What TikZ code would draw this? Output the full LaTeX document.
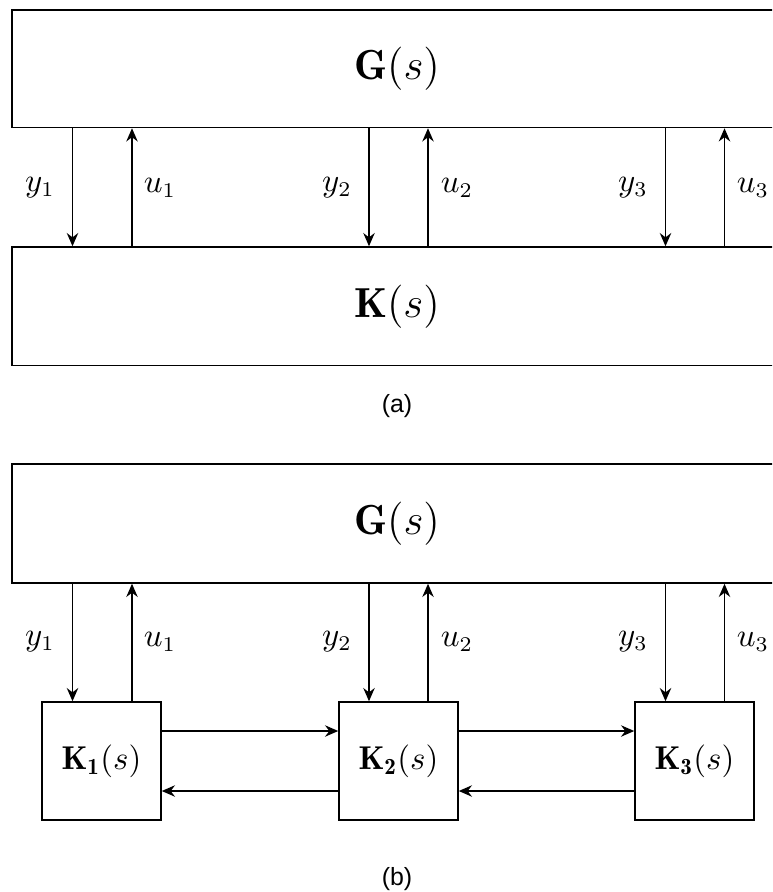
\documentclass[tikz,border=0pt]{standalone}
\usepackage{fontspec}
\newfontfamily\capfont{Liberation Sans}
\usetikzlibrary{arrows.meta,fit}
\begin{document}
\begin{tikzpicture}[x=0.33333pt,y=-0.33333pt,
  box/.style={draw, line width=0.5pt, inner sep=0pt},
  arr/.style={-{Stealth[length=4.4pt,width=3.8pt]}, line width=0.5pt},
  lbl/.style={font=\fontsize{10.5}{12}\selectfont},
  big/.style={font=\fontsize{14}{16}\selectfont},
  mid/.style={font=\fontsize{11}{13}\selectfont},
  captext/.style={font=\capfont\fontsize{8.3}{10}\selectfont}]
\useasboundingbox (0,0) rectangle (772,892);
\clip (0,0) rectangle (772,892);
\coordinate (cy1) at (72.5,0);
\coordinate (cu1) at (132,0);
\coordinate (cy2) at (369,0);
\coordinate (cu2) at (428,0);
\coordinate (cy3) at (665.5,0);
\coordinate (cu3) at (724.5,0);
\coordinate (ht) at (0,731);
\coordinate (hb) at (0,791);
% (a)
\node[box, fit={(12,10) (782,127.5)}] (Ga) {};
\node[big] (Gat) at (Ga.center) {$\mathbf{G}(s)$};
\node[box, fit={(12,247) (782,365.5)}] (Ka) {};
\node[big] (Kat) at (Ka.center) {$\mathbf{K}(s)$};
\foreach \i in {1,2,3} {
  \draw[arr] (Ga.south -| cy\i) -- (Ka.north -| cy\i);
  \draw[arr] (Ka.north -| cu\i) -- (Ga.south -| cu\i);
}
\node[lbl] (ya1) at (40,188) {$y_1$};
\node[lbl] (ua1) at (160,188) {$u_1$};
\node[lbl] (ya2) at (337,188) {$y_2$};
\node[lbl] (ua2) at (457,188) {$u_2$};
\node[lbl] (ya3) at (633,188) {$y_3$};
\node[lbl] (ua3) at (753,188) {$u_3$};
\node[captext] (capa) at (397,406) {(a)};
% (b)
\node[box, fit={(12,464) (782,583)}] (Gb) {};
\node[big] (Gbt) at (Gb.center) {$\mathbf{G}(s)$};
\node[box, fit={(42,702) (161,820)}] (K1) {};
\node[box, fit={(339,702) (458,820)}] (K2) {};
\node[box, fit={(635,702) (754,820)}] (K3) {};
\node[mid] (K1t) at (K1.center) {$\mathbf{K_1}(s)$};
\node[mid] (K2t) at (K2.center) {$\mathbf{K_2}(s)$};
\node[mid] (K3t) at (K3.center) {$\mathbf{K_3}(s)$};
\foreach \i in {1,2,3} {
  \draw[arr] (Gb.south -| cy\i) -- (K\i.north -| cy\i);
  \draw[arr] (K\i.north -| cu\i) -- (Gb.south -| cu\i);
}
\draw[arr] (K1.east |- ht) -- (K2.west |- ht);
\draw[arr] (K2.west |- hb) -- (K1.east |- hb);
\draw[arr] (K2.east |- ht) -- (K3.west |- ht);
\draw[arr] (K3.west |- hb) -- (K2.east |- hb);
\node[lbl] (yb1) at (40,642) {$y_1$};
\node[lbl] (ub1) at (160,642) {$u_1$};
\node[lbl] (yb2) at (337,642) {$y_2$};
\node[lbl] (ub2) at (457,642) {$u_2$};
\node[lbl] (yb3) at (633,642) {$y_3$};
\node[lbl] (ub3) at (753,642) {$u_3$};
\node[captext] (capb) at (397,879) {(b)};
\end{tikzpicture}
\end{document}
